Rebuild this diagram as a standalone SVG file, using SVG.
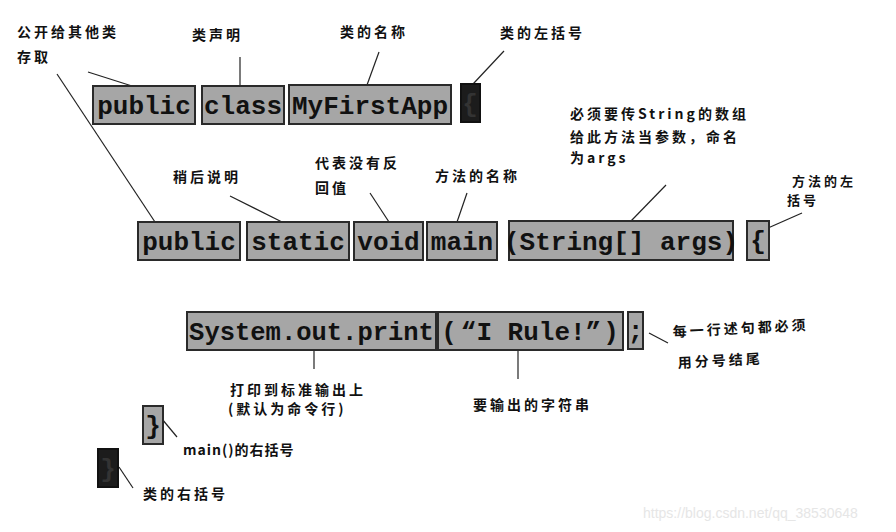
<svg xmlns="http://www.w3.org/2000/svg" width="896" height="532" viewBox="0 0 896 532">
<style>
.box{fill:#a6a6a6;stroke:#2a2a2a;stroke-width:2}
.dark{fill:#1c1c1c;stroke:#111;stroke-width:2}
.code{font-family:"Liberation Mono","DejaVu Sans Mono",monospace;font-weight:bold;font-size:26px;fill:#111}
.lbl{font-family:"Noto Sans CJK SC","Noto Sans",sans-serif;font-size:14px;font-weight:bold;fill:#111;letter-spacing:3px}
.ln{stroke:#222;stroke-width:1.2;fill:none}
.wm{font-family:"Liberation Sans",Arial,sans-serif;font-size:14px;fill:#e6e6e6}
</style>
<rect width="896" height="532" fill="#ffffff"/>
<g id="connectors">
<line class="ln" x1="88" y1="72" x2="132" y2="86"/>
<line class="ln" x1="57" y1="74" x2="155" y2="222"/>
<line class="ln" x1="240" y1="57" x2="240" y2="86"/>
<line class="ln" x1="379" y1="52" x2="367" y2="85"/>
<line class="ln" x1="504" y1="51" x2="473" y2="84"/>
<line class="ln" x1="666" y1="185" x2="631" y2="221"/>
<line class="ln" x1="802" y1="213" x2="768" y2="228"/>
<line class="ln" x1="230" y1="196" x2="282" y2="222"/>
<line class="ln" x1="370" y1="193" x2="389" y2="222"/>
<line class="ln" x1="467" y1="193" x2="457" y2="222"/>
<line class="ln" x1="314" y1="350" x2="314" y2="369"/>
<line class="ln" x1="518" y1="350" x2="518" y2="379"/>
<line class="ln" x1="649" y1="333" x2="668" y2="343"/>
<line class="ln" x1="162" y1="419" x2="177" y2="437"/>
<line class="ln" x1="119" y1="467" x2="133" y2="488"/>
</g>
<g id="public1"><rect class="box" x="93" y="86" width="102" height="38"/><text class="code" x="144" y="114" text-anchor="middle">public</text></g>
<g id="class"><rect class="box" x="202" y="86" width="82" height="38"/><text class="code" x="243" y="114" text-anchor="middle">class</text></g>
<g id="MyFirstApp"><rect class="box" x="289" y="85" width="162" height="39"/><text class="code" x="370" y="114" text-anchor="middle">MyFirstApp</text></g>
<g id="classOpen"><rect class="dark" x="461" y="84" width="19" height="38"/><text class="code" x="470" y="112" text-anchor="middle" style="fill:#333">{</text></g>
<g id="public2"><rect class="box" x="138" y="222" width="102" height="38"/><text class="code" x="189" y="250" text-anchor="middle">public</text></g>
<g id="static"><rect class="box" x="247" y="222" width="102" height="38"/><text class="code" x="298" y="250" text-anchor="middle">static</text></g>
<g id="void"><rect class="box" x="354" y="222" width="69" height="38"/><text class="code" x="388.5" y="250" text-anchor="middle">void</text></g>
<g id="main"><rect class="box" x="427" y="222" width="70" height="38"/><text class="code" x="462" y="250" text-anchor="middle">main</text></g>
<g id="args"><rect class="box" x="509" y="221" width="224" height="39"/><text class="code" x="621" y="250" text-anchor="middle">(String[] args)</text></g>
<g id="methodOpen"><rect class="box" x="747" y="221" width="22" height="39"/><text class="code" x="758" y="249" text-anchor="middle">{</text></g>
<g id="print"><rect class="box" x="187" y="312" width="249" height="38"/><text class="code" x="311.5" y="340" text-anchor="middle" style="font-size:25.5px">System.out.print</text></g>
<g id="string"><rect class="box" x="438" y="312" width="185" height="38"/>
<text class="code" x="449" y="340" text-anchor="middle">(</text>
<text class="code" x="531" y="340" text-anchor="middle">“I Rule!”</text>
<text class="code" x="611" y="340" text-anchor="middle">)</text></g>
<g id="semi"><rect class="box" x="628" y="312" width="15" height="37"/><text class="code" x="635.5" y="339" text-anchor="middle">;</text></g>
<g id="methodClose"><rect class="box" x="143" y="406" width="20" height="38"/><text class="code" x="153" y="434" text-anchor="middle">}</text></g>
<g id="classClose"><rect class="dark" x="98" y="449" width="20" height="38"/><text class="code" x="108" y="477" text-anchor="middle" style="fill:#333">}</text></g>
<g id="labels">
<text class="lbl" x="17" y="37">公开给其他类</text>
<text class="lbl" x="17" y="62">存取</text>
<text class="lbl" x="192" y="40">类声明</text>
<text class="lbl" x="340" y="37">类的名称</text>
<text class="lbl" x="500" y="38">类的左括号</text>
<text class="lbl" x="570" y="119">必须要传String的数组</text>
<text class="lbl" x="570" y="142">给此方法当参数，命名</text>
<text class="lbl" x="570" y="163">为args</text>
<text class="lbl" x="792" y="186" style="font-size:13px">方法的左</text>
<text class="lbl" x="787" y="205" style="font-size:13px">括号</text>
<text class="lbl" x="173" y="182">稍后说明</text>
<text class="lbl" x="315" y="168">代表没有反</text>
<text class="lbl" x="315" y="193">回值</text>
<text class="lbl" x="435" y="181">方法的名称</text>
<text class="lbl" x="230" y="395">打印到标准输出上</text>
<text class="lbl" x="228" y="414">(默认为命令行)</text>
<text class="lbl" x="473" y="410">要输出的字符串</text>
<text class="lbl" x="673" y="337" transform="rotate(-3 673 337)">每一行述句都必须</text>
<text class="lbl" x="678" y="368" transform="rotate(-3 678 368)">用分号结尾</text>
<text class="lbl" x="183" y="455" style="letter-spacing:1px">main()的右括号</text>
<text class="lbl" x="143" y="499">类的右括号</text>
</g>
<text class="wm" x="643" y="518">https://blog.csdn.net/qq_38530648</text>
</svg>
